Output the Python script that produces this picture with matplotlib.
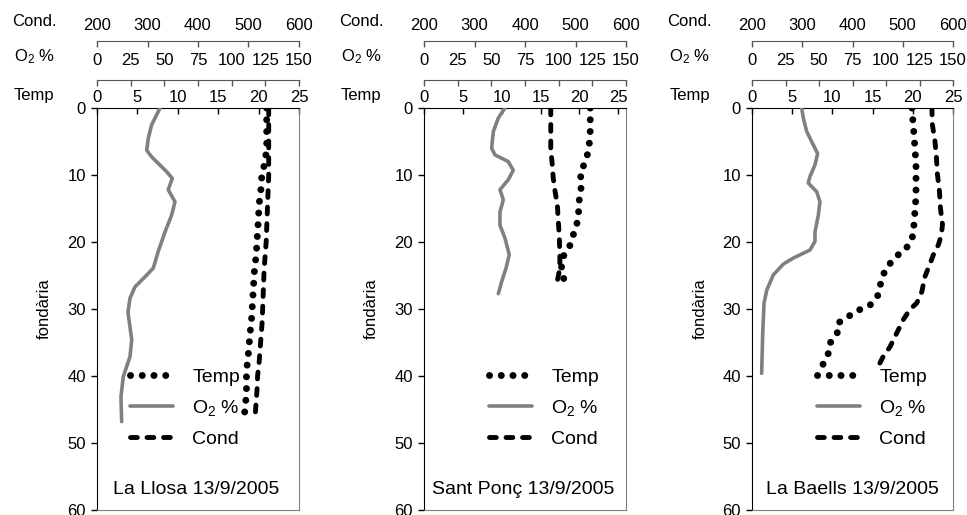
import matplotlib
matplotlib.use('Agg')
import matplotlib.pyplot as plt

plt.rcParams['font.family'] = ['Liberation Sans', 'DejaVu Sans']
plt.rcParams['mathtext.fontset'] = 'custom'
plt.rcParams['mathtext.rm'] = 'Liberation Sans'
plt.rcParams['mathtext.it'] = 'Liberation Sans:italic'
plt.rcParams['mathtext.bf'] = 'Liberation Sans:bold'

# ---------------- data ----------------
titles = ['La Llosa 13/9/2005', 'Sant Ponç 13/9/2005', 'La Baells 13/9/2005']

llosa_temp_depth = [0, 2, 4, 6, 8, 10, 12, 14, 16, 18, 20, 22, 24, 26, 28, 30, 32, 34, 36, 38, 40, 42, 44, 46.2]
llosa_temp = [21.0, 21.0, 21.0, 21.0, 20.8, 20.4, 20.3, 20.1, 20.0, 19.9, 19.8, 19.7, 19.5, 19.4, 19.3, 19.2,
              19.1, 18.9, 18.8, 18.6, 18.5, 18.5, 18.4, 18.2]
llosa_cond_depth = llosa_temp_depth
llosa_cond = [540, 540, 540, 540, 540, 540, 539, 538, 537, 536, 535, 533, 531, 530, 529, 528, 527, 525, 523,
              521, 518, 517, 515, 513]
llosa_o2_depth = [0, 2.5, 4.5, 6.3, 7.3, 9.5, 10.5, 12.2, 14.0, 16.0, 18.5, 21.4, 23.9, 25.2, 26.7, 28.4, 30.5,
                  34.6, 37.1, 40.1, 43.1, 46.8]
llosa_o2 = [46.8, 40.6, 38.1, 36.9, 40.6, 51.7, 55.9, 52.9, 57.9, 55.4, 50.5, 45.5, 41.8, 35.6, 28.2, 24.5, 23.0,
            25.8, 24.5, 19.5, 17.8, 18.3]

ponc_temp_depth = [0, 1.6, 3.3, 5.1, 6.7, 8.2, 9.7, 11.3, 12.8, 14.4, 16.0, 17.7, 19.3, 20.8, 22.2, 23.7, 25.2, 26.7]
ponc_temp = [21.4, 21.4, 21.4, 21.3, 21.1, 20.7, 20.1, 20.3, 20.1, 19.9, 19.9, 19.6, 19.1, 18.7, 17.9, 17.7,
             17.9, 18.4]
ponc_cond_depth = [0, 3.5, 6.0, 8.5, 10.5, 12.2, 14.4, 16.9, 19.4, 21.9, 23.9, 26.2, 26.9]
ponc_cond = [451, 451, 451, 454, 456, 459, 464, 466, 468, 469, 469, 463, 459]
ponc_o2_depth = [0, 1.5, 3.5, 6.0, 7.0, 8.0, 9.3, 10.7, 12.2, 13.7, 15.5, 17.5, 19.4, 21.9, 23.9, 25.9, 27.7]
ponc_o2 = [60.1, 55.2, 51.5, 50.2, 52.7, 62.6, 66.3, 62.6, 56.4, 58.9, 56.4, 56.4, 60.1, 63.3, 60.9, 57.7, 55.2]

baells_temp_depth = [0, 1.7, 3.3, 4.9, 6.6, 8.2, 9.9, 11.6, 13.1, 14.9, 16.4, 18.1, 19.6, 20.9, 22.1, 23.7, 25.2,
                     26.7, 27.9, 29.4, 30.1, 31.1, 32.1, 33.6, 35.1, 36.6, 38.1, 39.5]
baells_temp = [19.9, 20.0, 20.1, 20.2, 20.3, 20.4, 20.4, 20.4, 20.4, 20.3, 20.2, 20.1, 19.9, 19.2, 18.0, 16.8,
               16.2, 15.9, 15.7, 14.7, 13.4, 12.0, 10.7, 10.6, 9.7, 9.5, 8.9, 8.3]
baells_cond_depth = [0, 2.5, 4.9, 7.4, 9.9, 12.4, 14.9, 17.4, 18.9, 20.4, 21.9, 23.3, 25.2, 27.4, 29.1, 30.1,
                     31.6, 33.6, 35.6, 37.1, 38.6]
baells_cond = [558, 559, 564, 567, 569, 573, 575, 579, 577, 571, 561, 554, 544, 538, 528, 514, 501, 488, 475,
               461, 451]
baells_o2_depth = [0, 1.5, 3.5, 5.5, 6.8, 8.5, 10.2, 11.2, 12.5, 14.0, 16.0, 18.5, 19.9, 21.2, 22.4, 23.3, 24.9,
                   27.2, 29.1, 33.6, 39.6]
baells_o2 = [37.1, 38.3, 40.8, 45.7, 49.0, 47.0, 43.3, 42.0, 48.3, 50.7, 49.5, 47.0, 47.0, 43.3, 30.8, 23.4, 15.9,
             11.0, 9.0, 8.0, 7.2]

temp_ticks = [0, 5, 10, 15, 20, 25]
o2_ticks = [0, 25, 50, 75, 100, 125, 150]
cond_ticks = [200, 300, 400, 500, 600]
depth_ticks = [0, 10, 20, 30, 40, 50, 60]
temp_max = [25, 26, 25]

data = [
    (llosa_temp_depth, llosa_temp, llosa_o2_depth, llosa_o2, llosa_cond_depth, llosa_cond),
    (ponc_temp_depth, ponc_temp, ponc_o2_depth, ponc_o2, ponc_cond_depth, ponc_cond),
    (baells_temp_depth, baells_temp, baells_o2_depth, baells_o2, baells_cond_depth, baells_cond),
]

# ---------------- layout ----------------
W, H = 967, 515
fig = plt.figure(figsize=(W / 100, H / 100), dpi=100)
lefts = [97, 424, 752]
widths = [202, 202, 201]
top_px, bot_px = 108, 510
legend_pos = [(0.436, 0.253), (0.594, 0.253), (0.597, 0.253)]
title_x = [0.49, 0.49, 0.50]

GRAY = '#808080'
AXC = '#555555'
PX = 0.72  # points per pixel
TICK_FS = 12
HEAD_FS = 12

for i in range(3):
    td, tv, od, ov, cd, cv = data[i]
    ax = fig.add_axes([lefts[i] / W, 1 - bot_px / H, widths[i] / W, (bot_px - top_px) / H])
    ax.set_ylim(60, 0)
    ax.set_xlim(0, temp_max[i])

    l_t, = ax.plot(tv, td, color='black', lw=5, linestyle=(0, (0.01, 1.68)),
                   dash_capstyle='round', label='Temp')

    ax_o = ax.twiny()
    ax_o.set_xlim(0, 150)
    ax_o.set_xticks(o2_ticks)
    for s in ['bottom', 'left', 'right']:
        ax_o.spines[s].set_visible(False)
    ax_o.spines['top'].set_position(('outward', 28 * PX))
    ax_o.spines['top'].set_color(AXC)
    ax_o.tick_params(axis='x', direction='in', length=4, width=1, pad=8.3, labelsize=TICK_FS, color=AXC)
    l_o, = ax_o.plot(ov, od, color=GRAY, lw=2.6, solid_capstyle='round', label=r'O$_2$ %')

    ax_c = ax.twiny()
    ax_c.set_xlim(200, 600)
    ax_c.set_xticks(cond_ticks)
    for s in ['bottom', 'left', 'right']:
        ax_c.spines[s].set_visible(False)
    ax_c.spines['top'].set_position(('outward', 67 * PX))
    ax_c.spines['top'].set_color(AXC)
    ax_c.tick_params(axis='x', direction='in', length=4, width=1, pad=6.1, labelsize=TICK_FS, color=AXC)
    l_c, = ax_c.plot(cv, cd, color='black', lw=3.5, linestyle=(0, (1.4, 2.0)),
                     dash_capstyle='round', label='Cond')

    # main axis (after twins, since twiny moves ticks to the bottom)
    ax.xaxis.tick_top()
    ax.set_xticks(temp_ticks)
    ax.set_yticks(depth_ticks)
    ax.tick_params(axis='x', direction='in', length=4, width=1, pad=2, labelsize=TICK_FS, colors='black')
    ax.tick_params(axis='y', direction='out', length=4, width=1, pad=4, labelsize=TICK_FS)
    ax.spines['top'].set_color('black')
    ax.spines['left'].set_color('black')
    ax.spines['right'].set_color(GRAY)
    ax.spines['bottom'].set_color(GRAY)
    ax.set_ylabel('fondària', fontsize=12)
    ax.yaxis.set_label_coords(-0.222, 0.5)

    ax_c.legend([l_t, l_o, l_c], ['Temp', r'O$_2$ %', 'Cond'], loc='center',
                bbox_to_anchor=legend_pos[i], bbox_transform=ax.transAxes, frameon=False,
                fontsize=14, handlelength=2.2, handletextpad=1.0, labelspacing=0.62,
                borderpad=0, borderaxespad=0)

    ax.text(title_x[i], 0.05, titles[i], transform=ax.transAxes, ha='center', va='center', fontsize=14)

    ax.text(-0.31, 1 + (top_px - 21) / (bot_px - top_px), 'Cond.', transform=ax.transAxes,
            ha='center', va='center', fontsize=HEAD_FS, clip_on=False)
    ax.text(-0.31, 1 + (top_px - 57) / (bot_px - top_px), r'O$_2$ %', transform=ax.transAxes,
            ha='center', va='center', fontsize=HEAD_FS, clip_on=False)
    ax.text(-0.31, 1 + (top_px - 95) / (bot_px - top_px), 'Temp', transform=ax.transAxes,
            ha='center', va='center', fontsize=HEAD_FS, clip_on=False)

fig.savefig('out.png', dpi=100)
